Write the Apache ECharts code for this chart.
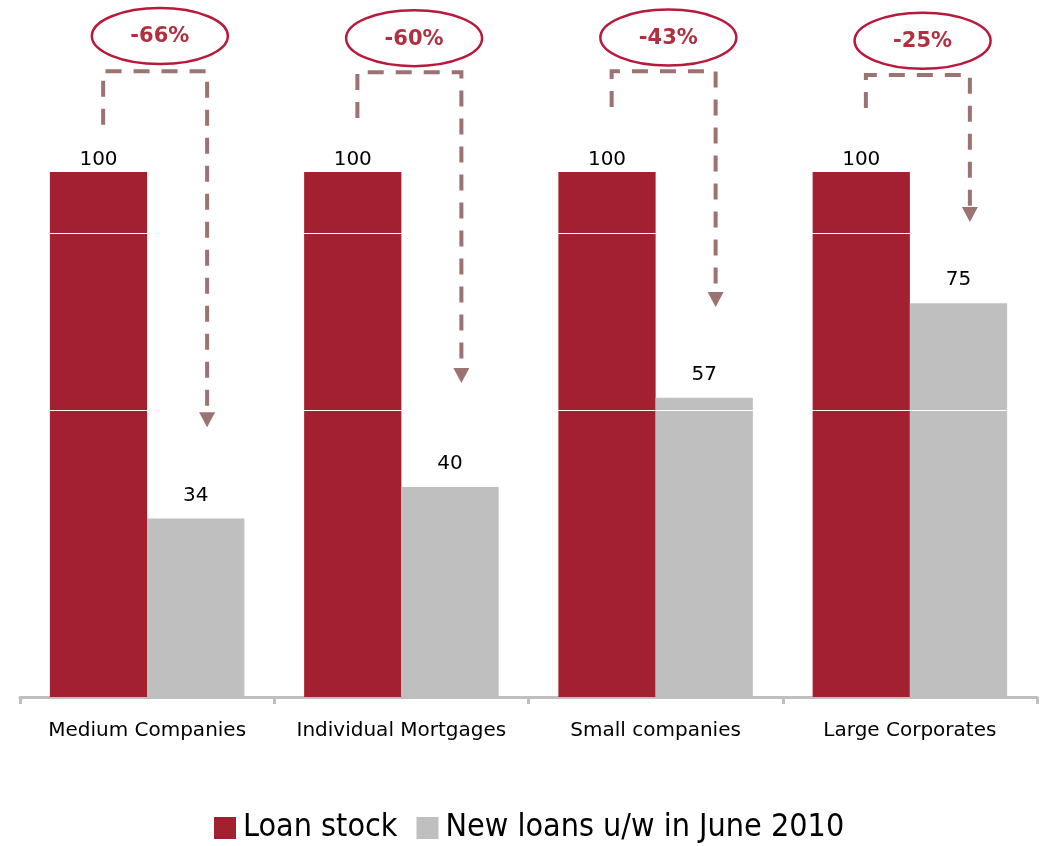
<!DOCTYPE html>
<html>
<head>
<meta charset="utf-8">
<script src="https://cdn.jsdelivr.net/npm/echarts@6/dist/echarts.min.js"></script>
<style>
  html, body { margin: 0; padding: 0; background: #ffffff; }
  #chart { width: 1044px; height: 846px; }
</style>
</head>
<body>
<div id="chart"></div>
<script>
// Loan volumes indexed to the existing loan stock (= 100)
const categories = ['Medium Companies', 'Individual Mortgages', 'Small companies', 'Large Corporates'];
const loanStock = [100, 100, 100, 100];
const newLoans = [34, 40, 57, 75];

// Bracket connectors, expressed in value-axis units
const bracketStart = [109, 110.3, 112.4, 112.2];   // where the dashed line leaves the stock bar
const bracketTop = [119.2, 119.0, 119.2, 118.5];   // horizontal run of the bracket
const arrowTip = [51.4, 59.8, 74.3, 90.5];         // arrow head tip above the new-loans bar
const badgeLevel = [125.9, 125.5, 125.6, 125.0];   // centre of the percentage badge

// Thin white reference rules drawn across the bars
const ruleLevels = [54.7, 88.4];

const RED = '#A2202F';
const GREY = '#BFBFBF';
const ARROW = '#9B7372';
const BADGE = '#B81A3C';

const changeLabels = newLoans.map((v, i) => Math.round((v - loanStock[i]) / loanStock[i] * 100) + '%');

const connectorData = categories.map((c, i) => [i, bracketStart[i], bracketTop[i], arrowTip[i], badgeLevel[i]]);

function renderConnector(params, api) {
  const idx = api.value(0);
  const band = api.size([1, 0])[0];
  const cx = api.coord([idx, 0])[0];
  const xl = cx - band * 0.173;
  const xr = cx + band * 0.236;
  const yStart = api.coord([idx, api.value(1)])[1];
  const yTop = api.coord([idx, api.value(2)])[1];
  const yTip = api.coord([idx, api.value(3)])[1];
  const yBadge = api.coord([idx, api.value(4)])[1];
  const headH = 15, headW = 8;
  const bx = cx + band * 0.05;
  return {
    type: 'group',
    children: [
      {
        type: 'polyline',
        shape: { points: [[xl, yStart], [xl, yTop], [xr, yTop], [xr, yTip - headH]] },
        style: { stroke: ARROW, lineWidth: 4, fill: null, lineDash: [16, 12] }
      },
      {
        type: 'polygon',
        shape: { points: [[xr - headW, yTip - headH], [xr + headW, yTip - headH], [xr, yTip]] },
        style: { fill: ARROW }
      },
      {
        type: 'ellipse',
        shape: { cx: bx, cy: yBadge, rx: 68, ry: 28 },
        style: { stroke: BADGE, lineWidth: 2.5, fill: '#ffffff' }
      },
      {
        type: 'text',
        x: bx, y: yBadge + 1,
        style: {
          text: changeLabels[idx], fill: '#B0303F',
          font: 'bold 21px "DejaVu Sans", sans-serif',
          align: 'center', verticalAlign: 'middle'
        }
      }
    ]
  };
}

const chart = echarts.init(document.getElementById('chart'), null, { renderer: 'canvas' });

chart.setOption({
  animation: false,
  backgroundColor: '#ffffff',
  textStyle: { fontFamily: '"DejaVu Sans", sans-serif' },
  grid: { left: 20, right: 7, top: 172, bottom: 149, containLabel: false },
  legend: {
    data: ['Loan stock', 'New loans u/w in June 2010'],
    bottom: 2,
    padding: 0,
    left: 214,
    icon: 'rect',
    itemWidth: 22,
    itemHeight: 22,
    itemGap: 19,
    textStyle: { fontSize: 32, color: '#000000', padding: [0, 0, 0, 2], fontFamily: '"DejaVu Sans Condensed", "DejaVu Sans", sans-serif' }
  },
  xAxis: {
    type: 'category',
    data: categories,
    offset: 3,
    axisLine: { lineStyle: { color: GREY, width: 3 } },
    axisTick: { show: true, interval: 0, length: 7, lineStyle: { color: GREY, width: 3 } },
    axisLabel: { interval: 0, hideOverlap: false, color: '#000000', fontSize: 20, margin: 21 }
  },
  yAxis: {
    type: 'value',
    min: 0,
    max: 100,
    show: false,
    splitLine: { show: false }
  },
  series: [
    {
      name: 'Loan stock',
      type: 'bar',
      data: loanStock,
      barGap: '0%',
      barCategoryGap: '23.5%',
      itemStyle: { color: RED },
      label: { show: true, position: 'top', distance: 2, color: '#000000', fontSize: 20 }
    },
    {
      name: 'New loans u/w in June 2010',
      type: 'bar',
      data: newLoans,
      itemStyle: { color: GREY },
      label: { show: true, position: 'top', distance: 13, color: '#000000', fontSize: 20 },
      markLine: {
        silent: true,
        symbol: 'none',
        label: { show: false },
        lineStyle: { color: '#ffffff', width: 1, type: 'solid' },
        data: ruleLevels.map(v => ({ yAxis: v }))
      }
    },
    {
      type: 'custom',
      name: 'change',
      data: connectorData,
      clip: false,
      silent: true,
      z: 5,
      encode: { x: 0, y: 1 },
      renderItem: renderConnector
    }
  ]
});
</script>
</body>
</html>
